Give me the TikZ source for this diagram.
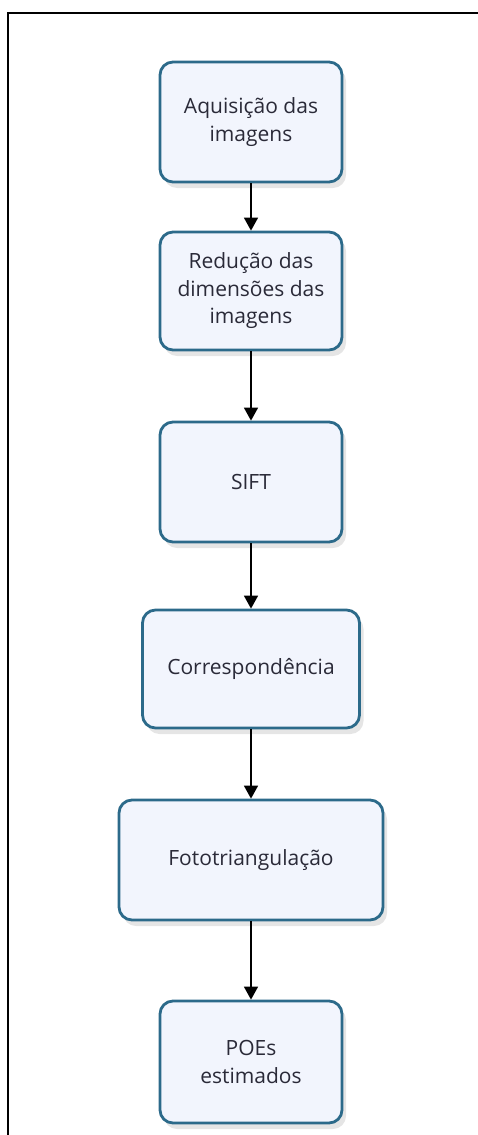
\documentclass[tikz,border=0pt]{standalone}
\usepackage{fontspec}
\setmainfont{Open Sans}
\usetikzlibrary{arrows.meta,shadows}
\definecolor{boxline}{HTML}{2C6A8A}
\definecolor{boxfill}{HTML}{F2F5FD}
\definecolor{boxtext}{HTML}{2A2A38}
\tikzset{
  stepbox/.style={draw=boxline, line width=2.8pt, fill=boxfill, rounded corners=13pt,
    align=center, text=boxtext, inner sep=0pt,
    font=\fontsize{21}{27.5}\selectfont,
    drop shadow={shadow xshift=4pt, shadow yshift=-6pt, fill=black, opacity=0.10}},
  flow/.style={line width=1.6pt, -{Triangle[length=13pt,width=14pt]}},
  frame/.style={line width=2pt, black}
}
\begin{document}
\begin{tikzpicture}[x=1pt,y=-1pt]
  \useasboundingbox (0,0) rectangle (477,1135);
  % outer frame (only top and left edges fall inside the page)
  \coordinate (fTL) at (8,13);
  \coordinate (fTR) at (478,13);
  \coordinate (fBL) at (8,1136);
  \draw[frame] (fTR) -- (fTL) -- (fBL);

  \node[stepbox, minimum width=182pt, minimum height=120pt] (acq) at (251,122) {Aquisição das\\imagens};
  \node[stepbox, minimum width=182pt, minimum height=118pt] (red) at (251,291) {Redução das\\dimensões das\\imagens};
  \node[stepbox, minimum width=182pt, minimum height=120pt] (sift) at (251,482) {SIFT};
  \node[stepbox, minimum width=217pt, minimum height=118pt] (corr) at (251,669) {Correspondência};
  \node[stepbox, minimum width=264pt, minimum height=120pt] (foto) at (251,860) {Fototriangulação};
  \node[stepbox, minimum width=182pt, minimum height=122pt] (poe) at (251,1062) {POEs\\estimados};

  \draw[flow] (acq) -- (red);
  \draw[flow] (red) -- (sift);
  \draw[flow] (sift) -- (corr);
  \draw[flow] (corr) -- (foto);
  \draw[flow] (foto) -- (poe);
\end{tikzpicture}
\end{document}
